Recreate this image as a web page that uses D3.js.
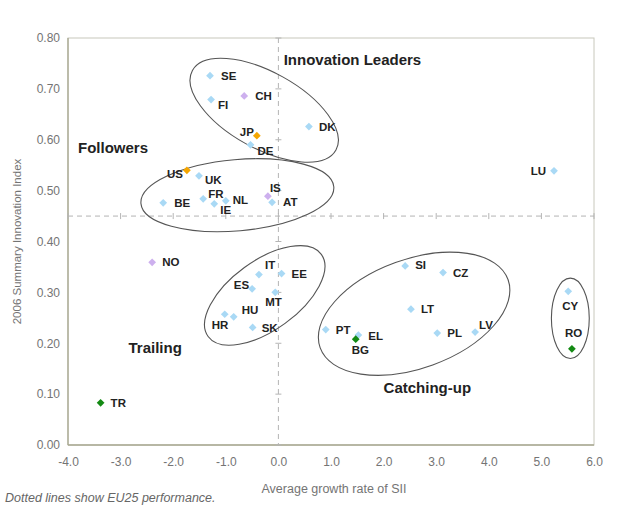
<!DOCTYPE html>
<html>
<head>
<meta charset="utf-8">
<script src="https://cdn.jsdelivr.net/npm/d3@7"></script>
<style>
  body { margin: 0; background: #fff; }
  text { font-family: "Liberation Sans", Arial, sans-serif; }
</style>
</head>
<body>
<svg id="chart" width="621" height="506"></svg>
<script>
// country codes, growth rate of SII (x) and 2006 SII (y)
var countries = ["SE","FI","CH","JP","DE","DK","US","UK","BE","FR","IE","NL","IS","AT","LU",
  "NO","IT","EE","ES","MT","HU","HR","SK","SI","CZ","LT","PT","EL","BG","PL","LV","CY","RO","TR"];
var growth = [-1.30,-1.28,-0.65,-0.41,-0.53,0.58,-1.74,-1.51,-2.19,-1.43,-1.22,-1.00,-0.20,-0.12,5.24,
  -2.40,-0.37,0.06,-0.50,-0.06,-0.85,-1.02,-0.49,2.41,3.13,2.52,0.90,1.52,1.47,3.02,3.74,5.51,5.58,-3.38];
var sii = [0.726,0.679,0.686,0.608,0.590,0.626,0.540,0.529,0.476,0.484,0.474,0.480,0.489,0.477,0.539,
  0.359,0.335,0.337,0.307,0.300,0.252,0.257,0.231,0.352,0.339,0.267,0.227,0.216,0.208,0.220,0.222,0.302,0.189,0.083];
// marker group: eu, other (non-EU Europe), jpus, cand (candidate)
var groups = ["eu","eu","other","jpus","eu","eu","jpus","eu","eu","eu","eu","eu","other","eu","eu",
  "other","eu","eu","eu","eu","eu","eu","eu","eu","eu","eu","eu","eu","cand","eu","eu","eu","cand","cand"];

var xTicks = [-4,-3,-2,-1,0,1,2,3,4,5,6];
var yTicks = [0,0.1,0.2,0.3,0.4,0.5,0.6,0.7,0.8];
var eu25 = { growth: 0, sii: 0.45 };

// cluster name, label anchor in data units
var clusterNames = ["Innovation Leaders","Followers","Trailing","Catching-up"];
var clusterLabelX = [0.1,-3.81,-2.85,2.0];
var clusterLabelY = [0.746,0.573,0.180,0.102];

// ellipses: centre in data units, radii in data units, tilt in degrees
var ellCx = [-0.27,-0.78,-0.26,2.58,5.55];
var ellCy = [0.658,0.491,0.294,0.258,0.249];
var ellRx = [1.56,1.84,1.33,1.90,0.36];
var ellRy = [0.075,0.070,0.068,0.107,0.079];
var ellTilt = [29,-5,-36,-20,0];

// label nudges (pixels) and anchors
var labelPos = {
  SE:[11,4,"start"], FI:[7,9,"start"], CH:[11,4,"start"], JP:[-3,0,"end"], DE:[7,10,"start"],
  DK:[10,4,"start"], US:[-4,8,"end"], UK:[6,8,"start"], BE:[11,4,"start"], FR:[5,-1,"start"],
  IE:[6,10,"start"], NL:[7,3,"start"], IS:[2,-4,"start"], AT:[11,4,"start"], LU:[-8,4,"end"],
  NO:[10,4,"start"], IT:[6,-6,"start"], EE:[10,4,"start"], ES:[-3,0,"end"], MT:[-10,14,"start"],
  HU:[8,-3,"start"], HR:[-13,15,"start"], SK:[9,5,"start"], SI:[10,3,"start"], CZ:[10,4,"start"],
  LT:[10,4,"start"], PT:[10,4,"start"], EL:[10,5,"start"], BG:[-4,15,"start"], PL:[10,4,"start"],
  LV:[4,-3,"start"], CY:[-6,19,"start"], RO:[-7,-12,"start"], TR:[10,4,"start"]
};
var colors = { eu: "#a9d9f5", other: "#cdb0ee", jpus: "#f5a600", cand: "#138a13" };

var svg = d3.select("#chart");
var plotLeft = 68, plotRight = 594, plotTop = 38, plotBottom = 445;

var x = d3.scaleLinear().domain([-4, 6]).range([plotLeft, plotRight]);
var y = d3.scaleLinear().domain([0, 0.8]).range([plotBottom, plotTop]);

svg.append("rect").attr("width", 621).attr("height", 506).attr("fill", "#fff");

// plot frame
svg.append("rect")
  .attr("x", plotLeft).attr("y", plotTop)
  .attr("width", plotRight - plotLeft).attr("height", plotBottom - plotTop)
  .attr("fill", "none").attr("stroke", "#c8c8bc").attr("stroke-width", 1);
svg.append("line").attr("x1", plotLeft).attr("x2", plotLeft).attr("y1", plotTop).attr("y2", plotBottom)
  .attr("stroke", "#a8a890").attr("stroke-width", 1.3);
svg.append("line").attr("x1", plotLeft).attr("x2", plotRight).attr("y1", plotBottom).attr("y2", plotBottom)
  .attr("stroke", "#a8a890").attr("stroke-width", 1.3);

// axes (labels only)
var xAxis = d3.axisBottom(x).tickValues(xTicks)
  .tickFormat(function(d) { return d.toFixed(1); }).tickSize(0).tickPadding(12);
var gx = svg.append("g").attr("transform", "translate(0," + plotBottom + ")").call(xAxis);
gx.select(".domain").remove();
gx.selectAll("text").attr("fill", "#747474").style("font-size", "12px")
  .style("font-family", "Liberation Sans, Arial, sans-serif");

var yAxis = d3.axisLeft(y).tickValues(yTicks)
  .tickFormat(function(d) { return d.toFixed(2); }).tickSize(0).tickPadding(8);
var gy = svg.append("g").attr("transform", "translate(" + plotLeft + ",0)").call(yAxis);
gy.select(".domain").remove();
gy.selectAll("text").attr("fill", "#747474").style("font-size", "12px")
  .style("font-family", "Liberation Sans, Arial, sans-serif");

// EU25 dashed lines with small tick marks
svg.append("line")
  .attr("x1", x(eu25.growth)).attr("x2", x(eu25.growth)).attr("y1", plotTop).attr("y2", plotBottom)
  .attr("stroke", "#b4b4b4").attr("stroke-dasharray", "5,4");
svg.append("line")
  .attr("x1", plotLeft).attr("x2", plotRight).attr("y1", y(eu25.sii)).attr("y2", y(eu25.sii))
  .attr("stroke", "#b4b4b4").attr("stroke-dasharray", "5,4");
svg.append("g").selectAll("line").data(xTicks).enter().append("line")
  .attr("x1", function(d) { return x(d); }).attr("x2", function(d) { return x(d); })
  .attr("y1", y(eu25.sii) - 3).attr("y2", y(eu25.sii) + 3)
  .attr("stroke", "#b4b4b4");
svg.append("g").selectAll("line").data(yTicks).enter().append("line")
  .attr("x1", x(eu25.growth) - 3).attr("x2", x(eu25.growth) + 3)
  .attr("y1", function(d) { return y(d); }).attr("y2", function(d) { return y(d); })
  .attr("stroke", "#b4b4b4");

// cluster ellipses
svg.append("g").selectAll("ellipse").data(ellCx).enter().append("ellipse")
  .attr("cx", 0).attr("cy", 0)
  .attr("rx", function(d, i) { return x(ellRx[i]) - x(0); })
  .attr("ry", function(d, i) { return y(0) - y(ellRy[i]); })
  .attr("transform", function(d, i) {
    return "translate(" + x(d) + "," + y(ellCy[i]) + ") rotate(" + ellTilt[i] + ")";
  })
  .attr("fill", "none").attr("stroke", "#555").attr("stroke-width", 1.1);

// cluster names
svg.append("g").selectAll("text").data(clusterNames).enter().append("text")
  .attr("x", function(d, i) { return x(clusterLabelX[i]); })
  .attr("y", function(d, i) { return y(clusterLabelY[i]); })
  .attr("fill", "#222").style("font-size", "15px").style("font-weight", "bold")
  .text(function(d) { return d; });

// points
var pts = countries.map(function(c, i) {
  return { code: c, gx: growth[i], s: sii[i], grp: groups[i] };
});
var diamond = d3.symbol().type(d3.symbolSquare).size(30);

var node = svg.append("g").selectAll("g").data(pts).enter().append("g")
  .attr("transform", function(d) { return "translate(" + x(d.gx) + "," + y(d.s) + ")"; });
node.append("path").attr("d", diamond).attr("transform", "rotate(45)")
  .attr("fill", function(d) { return colors[d.grp]; });
node.append("text")
  .attr("x", function(d) { return labelPos[d.code][0]; })
  .attr("y", function(d) { return labelPos[d.code][1]; })
  .attr("text-anchor", function(d) { return labelPos[d.code][2]; })
  .attr("fill", "#222").style("font-size", "11.5px").style("font-weight", "bold")
  .text(function(d) { return d.code; });

// axis titles and note
svg.append("text")
  .attr("transform", "translate(21," + ((plotTop + plotBottom) / 2) + ") rotate(-90)")
  .attr("text-anchor", "middle").attr("fill", "#747474").style("font-size", "11.5px")
  .text("2006 Summary Innovation Index");
svg.append("text")
  .attr("x", 334).attr("y", 493).attr("text-anchor", "middle")
  .attr("fill", "#747474").style("font-size", "12.5px")
  .text("Average growth rate of SII");
svg.append("text")
  .attr("x", 5).attr("y", 502).attr("fill", "#666")
  .style("font-size", "12.5px").style("font-style", "italic")
  .text("Dotted lines show EU25 performance.");
</script>
</body>
</html>
